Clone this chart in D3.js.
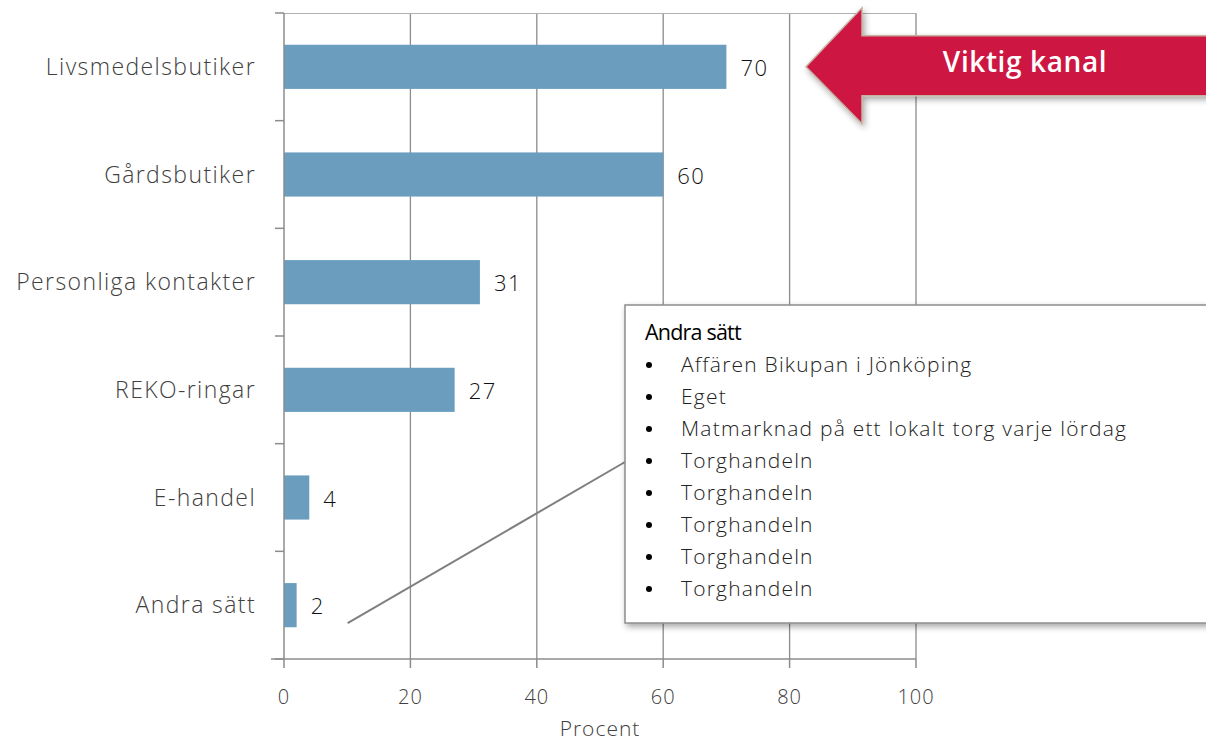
<!DOCTYPE html>
<html>
<head>
<meta charset="utf-8">
<script src="https://cdn.jsdelivr.net/npm/d3@7"></script>
<style>
  body { margin: 0; background: #fff; }
  svg { display: block; font-family: "Open Sans", "Lato", sans-serif; }
</style>
</head>
<body>
<div id="chart"></div>
<script>
// data
var categories = ["Livsmedelsbutiker", "Gårdsbutiker", "Personliga kontakter", "REKO-ringar", "E-handel", "Andra sätt"];
var values = [70, 60, 31, 27, 4, 2];
var xTicks = [0, 20, 40, 60, 80, 100];
var otherTitle = "Andra sätt";
var otherItems = ["Affären Bikupan i Jönköping", "Eget", "Matmarknad på ett lokalt torg varje lördag",
                  "Torghandeln", "Torghandeln", "Torghandeln", "Torghandeln", "Torghandeln"];
var calloutLabel = "Viktig kanal";

var cfg = {
  w: 1206,
  h: 742,
  left: 284,
  right: 916,
  top: 13,
  bot: 659
};

var svg = d3.select("#chart")
  .append("svg")
  .attr("width", cfg.w)
  .attr("height", cfg.h);

var defs = svg.append("defs");
var shadow = defs.append("filter").attr("id", "shadow")
  .attr("x", "-10%").attr("y", "-10%").attr("width", "130%").attr("height", "140%");
shadow.append("feDropShadow")
  .attr("dx", 2).attr("dy", 3).attr("stdDeviation", 3)
  .attr("flood-color", "#000").attr("flood-opacity", 0.35);

var x = d3.scaleLinear().domain([0, 100]).range([cfg.left, cfg.right]);
var y = d3.scaleBand().domain(categories).range([cfg.top, cfg.bot]).paddingInner(0.59).paddingOuter(0.295);

// gridlines
svg.append("g")
  .selectAll("line")
  .data(xTicks.slice(1))
  .enter().append("line")
  .attr("x1", function(d) { return x(d); })
  .attr("x2", function(d) { return x(d); })
  .attr("y1", cfg.top)
  .attr("y2", cfg.bot)
  .style("stroke", "#8c8c8c")
  .style("stroke-width", 1.3);

// top border
svg.append("line")
  .attr("x1", x(0)).attr("x2", x(100))
  .attr("y1", cfg.top + 0.5).attr("y2", cfg.top + 0.5)
  .style("stroke", "#b0b0b0").style("stroke-width", 1);

// bars
svg.append("g")
  .selectAll("rect")
  .data(values)
  .enter().append("rect")
  .attr("x", x(0))
  .attr("y", function(d, i) { return y(categories[i]); })
  .attr("width", function(d) { return x(d) - x(0); })
  .attr("height", y.bandwidth())
  .style("fill", "#6b9dbf");

// value labels
svg.append("g")
  .selectAll("text")
  .data(values)
  .enter().append("text")
  .attr("x", function(d) { return x(d) + 14; })
  .attr("y", function(d, i) { return y(categories[i]) + y.bandwidth() / 2 + 9; })
  .text(function(d) { return d; })
  .style("font-size", "22px")
  .style("font-weight", 300)
  .style("letter-spacing", "1.5px")
  .style("fill", "#111");

// y axis
var yAxis = d3.scaleLinear().domain([0, categories.length]).range([cfg.top, cfg.bot]);
var gy = svg.append("g");
gy.append("line")
  .attr("x1", cfg.left).attr("x2", cfg.left)
  .attr("y1", cfg.top).attr("y2", cfg.bot)
  .style("stroke", "#8c8c8c").style("stroke-width", 1.5);
gy.selectAll(".ytick")
  .data(d3.range(categories.length + 1))
  .enter().append("line")
  .attr("x1", cfg.left - 9).attr("x2", cfg.left)
  .attr("y1", function(d) { return yAxis(d); })
  .attr("y2", function(d) { return yAxis(d); })
  .style("stroke", "#8c8c8c").style("stroke-width", 1.5);
gy.selectAll("text")
  .data(categories)
  .enter().append("text")
  .attr("x", 256)
  .attr("y", function(d) { return y(d) + y.bandwidth() / 2 + 8; })
  .attr("text-anchor", "end")
  .text(function(d) { return d; })
  .style("font-size", "23px")
  .style("font-weight", 300)
  .style("letter-spacing", "1.4px")
  .style("fill", "#404040");

// x axis
var gx = svg.append("g");
gx.append("line")
  .attr("x1", cfg.left - 13).attr("x2", cfg.right)
  .attr("y1", cfg.bot).attr("y2", cfg.bot)
  .style("stroke", "#8c8c8c").style("stroke-width", 1.5);
gx.selectAll(".xtick")
  .data(xTicks)
  .enter().append("line")
  .attr("x1", function(d) { return x(d); })
  .attr("x2", function(d) { return x(d); })
  .attr("y1", cfg.bot).attr("y2", cfg.bot + 9)
  .style("stroke", "#8c8c8c").style("stroke-width", 1.5);
gx.selectAll("text")
  .data(xTicks)
  .enter().append("text")
  .attr("x", function(d) { return x(d); })
  .attr("y", 704)
  .attr("text-anchor", "middle")
  .text(function(d) { return d; })
  .style("font-size", "20px")
  .style("font-weight", 300)
  .style("letter-spacing", "1px")
  .style("fill", "#404040");
svg.append("text")
  .attr("x", x(50))
  .attr("y", 736)
  .attr("text-anchor", "middle")
  .text("Procent")
  .style("font-size", "21px")
  .style("font-weight", 300)
  .style("letter-spacing", "1px")
  .style("fill", "#404040");

// leader line from "Andra sätt" bar to the callout box
var lastIdx = categories.length - 1;
var bx = { x: 625, y: 305, w: 600, h: 318 };
svg.append("line")
  .attr("x1", x(values[lastIdx]) + 51)
  .attr("y1", y(categories[lastIdx]) + y.bandwidth() / 2 + 18)
  .attr("x2", bx.x)
  .attr("y2", 462)
  .style("stroke", "#7f7f7f")
  .style("stroke-width", 2);

// callout box
var box = svg.append("g");
box.append("rect")
  .attr("x", bx.x).attr("y", bx.y)
  .attr("width", bx.w).attr("height", bx.h)
  .style("fill", "#fff")
  .style("stroke", "#8c8c8c")
  .style("stroke-width", 1.5)
  .attr("filter", "url(#shadow)");
box.append("text")
  .attr("x", 645).attr("y", 340)
  .text(otherTitle)
  .style("font-size", "21.5px")
  .style("letter-spacing", "-0.8px")
  .style("fill", "#000");
var items = box.selectAll(".item")
  .data(otherItems)
  .enter().append("g")
  .attr("transform", function(d, i) { return "translate(0," + (372 + i * 32) + ")"; });
items.append("circle")
  .attr("cx", 649).attr("cy", -7).attr("r", 3)
  .style("fill", "#000");
items.append("text")
  .attr("x", 681).attr("y", 0)
  .text(function(d) { return d; })
  .style("font-size", "21px")
  .style("font-weight", 300)
  .style("letter-spacing", "1.2px")
  .style("fill", "#222");

// big arrow pointing at the top bar
var ay = y(categories[0]) + y.bandwidth() / 2;
var arrowPts = [
  [806, ay], [862, ay - 59], [862, ay - 31], [1212, ay - 31],
  [1212, ay + 29], [862, ay + 29], [862, ay + 57]
];
svg.append("path")
  .attr("d", d3.line()(arrowPts) + "Z")
  .style("fill", "#cd1443")
  .style("stroke", "#c8b0a0")
  .style("stroke-width", 1.5)
  .attr("filter", "url(#shadow)");
svg.append("text")
  .attr("x", 1025).attr("y", ay + 5)
  .attr("text-anchor", "middle")
  .text(calloutLabel)
  .style("font-size", "28px")
  .style("font-weight", 600)
  .style("letter-spacing", "0.6px")
  .style("fill", "#fff");
</script>
</body>
</html>
